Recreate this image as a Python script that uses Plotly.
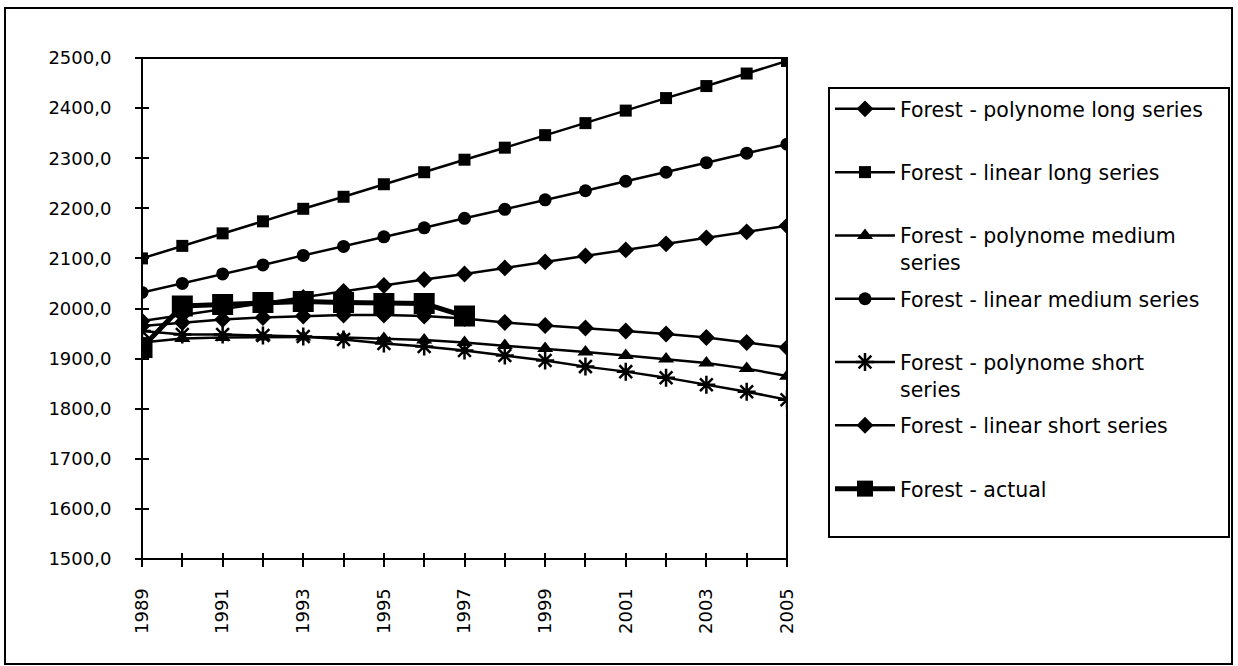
import plotly.graph_objects as go

years = [1989, 1990, 1991, 1992, 1993, 1994, 1995, 1996, 1997,
         1998, 1999, 2000, 2001, 2002, 2003, 2004, 2005]
actual_years = [1989, 1990, 1991, 1992, 1993, 1994, 1995, 1996, 1997]

poly_long = [1965, 1972, 1978, 1982, 1985, 1987, 1987, 1985, 1980,
             1972, 1966, 1961, 1955, 1949, 1942, 1932, 1922]
lin_long = [2100, 2125, 2150, 2174, 2199, 2223, 2248, 2272, 2297,
            2321, 2346, 2370, 2395, 2420, 2444, 2469, 2494]
poly_med = [1932, 1940, 1942, 1943, 1943, 1942, 1940, 1937, 1932,
            1926, 1920, 1913, 1906, 1899, 1891, 1880, 1865]
lin_med = [2032, 2050, 2069, 2087, 2106, 2124, 2143, 2161, 2180,
           2198, 2217, 2235, 2254, 2272, 2291, 2310, 2328]
poly_short = [1955, 1948, 1948, 1946, 1944, 1938, 1930, 1924, 1916,
              1906, 1896, 1884, 1874, 1862, 1848, 1834, 1818]
lin_short = [1975, 1987, 1999, 2011, 2022, 2034, 2046, 2058, 2069,
             2081, 2093, 2105, 2117, 2129, 2141, 2153, 2165]
actual = [1922, 2005, 2008, 2012, 2014, 2012, 2010, 2010, 1985]

x_labels = ["1989", "", "1991", "", "1993", "", "1995", "", "1997",
            "", "1999", "", "2001", "", "2003", "", "2005"]
y_vals = [1500, 1600, 1700, 1800, 1900, 2000, 2100, 2200, 2300, 2400, 2500]
y_labels = ["1500,0", "1600,0", "1700,0", "1800,0", "1900,0", "2000,0",
            "2100,0", "2200,0", "2300,0", "2400,0", "2500,0"]

FONT = "DejaVu Sans"
BLANK = "<br>\u00a0"
PAD = "\u00a0\u00a0\u00a0"

series = [
    ("Forest - polynome long series" + PAD + BLANK, poly_long, "diamond", 13),
    ("Forest - linear long series" + BLANK, lin_long, "square", 12),
    ("Forest - polynome medium<br>series", poly_med, "triangle-up", 14),
    ("Forest - linear medium series" + BLANK, lin_med, "circle", 13),
    ("Forest - polynome short<br>series", poly_short, "asterisk-open", 15),
    ("Forest - linear short series" + BLANK, lin_short, "diamond", 13),
]

fig = go.Figure()
for i, (name, vals, sym, size) in enumerate(series):
    marker = dict(symbol=sym, size=size, color="black")
    if sym == "asterisk-open":
        marker["line"] = dict(color="black", width=2.5)
    fig.add_trace(go.Scatter(
        x=years, y=vals, name=name, mode="lines+markers",
        line=dict(color="black", width=2.5), marker=marker,
        legendgroup="g%d" % i,
    ))

fig.add_trace(go.Scatter(
    x=actual_years, y=actual, name="Forest - actual" + BLANK,
    mode="lines+markers", line=dict(color="black", width=5),
    marker=dict(symbol="square", size=21, color="black"),
    legendgroup="g6",
))

axis_font = dict(family=FONT, size=18, color="black")
W, H = 1238, 666
PW, PH = 645, 501  # plot area size in px

fig.update_layout(
    width=W, height=H,
    margin=dict(l=142, r=W - 142 - PW, t=58, b=H - 58 - PH),
    paper_bgcolor="white", plot_bgcolor="white",
    font=dict(family=FONT, color="black"),
    showlegend=True,
    legend=dict(
        xref="container", yref="container",
        x=828 / W, xanchor="left",
        y=1 - 87 / H, yanchor="top",
        maxheight=0.95,
        bgcolor="white", bordercolor="black", borderwidth=2,
        font=dict(family=FONT, size=20.5, color="black"),
        itemwidth=60, tracegroupgap=7, traceorder="grouped",
        valign="top", itemsizing="trace",
    ),
    # axes placed 7px inside the frame so that 14px outside ticks cross the frame
    xaxis=dict(
        range=[1989, 2005], tickmode="array", tickvals=years, ticktext=x_labels,
        tickangle=-90, ticks="outside", ticklen=14, tickwidth=2, tickcolor="black",
        anchor="free", position=7 / PH,
        showline=False, showgrid=False, zeroline=False, tickfont=axis_font,
        ticklabelstandoff=14,
    ),
    yaxis=dict(
        range=[1500, 2500], tickmode="array", tickvals=y_vals, ticktext=y_labels,
        ticks="outside", ticklen=14, tickwidth=2, tickcolor="black",
        anchor="free", position=7 / PW,
        showline=False, showgrid=False, zeroline=False, tickfont=axis_font,
        ticklabelstandoff=20,
    ),
    shapes=[
        dict(type="rect", xref="paper", yref="paper", x0=0, x1=1, y0=0, y1=1,
             line=dict(color="black", width=2), fillcolor="rgba(0,0,0,0)",
             layer="above"),
        dict(type="rect", xref="paper", yref="paper",
             x0=(5 - 142) / PW, x1=(1232 - 142) / PW,
             y0=(559 - 664) / PH, y1=(559 - 8) / PH,
             line=dict(color="black", width=2), fillcolor="rgba(0,0,0,0)",
             layer="below"),
    ],
)

fig.write_html("out.html", config={"displayModeBar": False},
               post_script="document.body.style.margin='0';")
